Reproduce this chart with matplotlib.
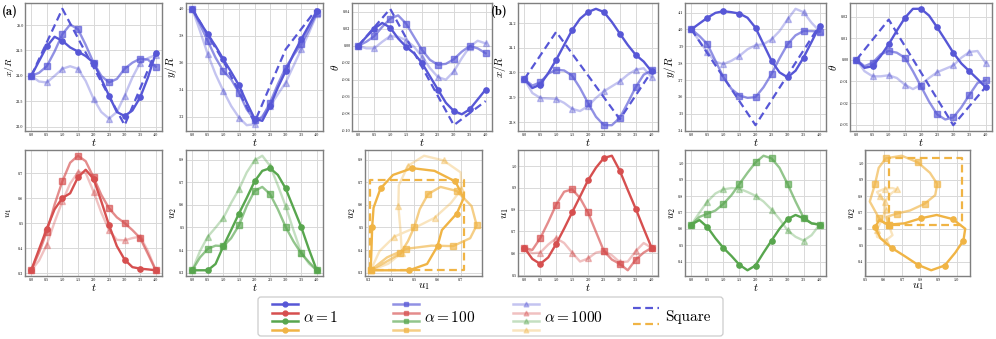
import matplotlib
matplotlib.use("Agg")
import matplotlib.pyplot as plt
from matplotlib.patches import FancyBboxPatch
from matplotlib.ticker import MultipleLocator

plt.rcParams.update({
    "font.family": "serif",
    "font.serif": ["cmr10"],
    "mathtext.fontset": "cm",
    "axes.unicode_minus": False,
})

# time grid of the traces (markers every 0.5)
t = [0.0, 0.25, 0.5, 0.75, 1.0, 1.25, 1.5, 1.75, 2.0,
     2.25, 2.5, 2.75, 3.0, 3.25, 3.5, 3.75, 4.0]
t_sq = [0.0, 1.0, 2.0, 3.0, 4.0]

# ---- case (a) ----
a_x_1 = [24.00, 24.29, 24.58, 24.77, 24.69, 24.56, 24.48, 24.39, 24.26,
         23.94, 23.61, 23.29, 23.21, 23.32, 23.58, 23.97, 24.45]
a_x_100 = [24.00, 24.06, 24.19, 24.48, 24.82, 25.01, 24.92, 24.61, 24.26,
           24.00, 23.87, 23.94, 24.14, 24.26, 24.34, 24.32, 24.18]
a_x_1000 = [24.00, 23.89, 23.87, 24.00, 24.14, 24.19, 24.14, 23.90, 23.55,
            23.29, 23.16, 23.29, 23.61, 23.97, 24.26, 24.35, 24.41]
a_x_sq = [24.00, 25.32, 24.17, 23.03, 24.48]

a_y_1 = [4.000, 3.901, 3.810, 3.723, 3.625, 3.531, 3.432, 3.304, 3.185,
         3.168, 3.279, 3.415, 3.538, 3.662, 3.773, 3.877, 3.983]
a_y_100 = [4.000, 3.884, 3.760, 3.637, 3.538, 3.477, 3.378, 3.254, 3.175,
           3.193, 3.304, 3.440, 3.563, 3.654, 3.736, 3.847, 3.970]
a_y_1000 = [4.000, 3.835, 3.662, 3.514, 3.390, 3.279, 3.193, 3.136, 3.143,
            3.205, 3.279, 3.365, 3.452, 3.575, 3.699, 3.822, 3.958]
a_y_sq = [4.000, 3.612, 3.156, 3.699, 4.000]

a_th_1 = [0.0, 0.0104, 0.0201, 0.0267, 0.0213, 0.0085, -0.0012, -0.0089, -0.0205,
          -0.0360, -0.0515, -0.0670, -0.0766, -0.0805, -0.0747, -0.0631, -0.0515]
a_th_100 = [0.0, 0.0046, 0.0112, 0.0221, 0.0317, 0.0356, 0.0259, 0.0104, -0.0050,
            -0.0166, -0.0224, -0.0213, -0.0159, -0.0070, -0.0004, -0.0031, -0.0089]
a_th_1000 = [0.0, -0.0031, -0.0031, 0.0046, 0.0112, 0.0104, 0.0066, -0.0012, -0.0128,
             -0.0263, -0.0368, -0.0399, -0.0302, -0.0147, -0.0012, 0.0058, 0.0027]
a_th_sq = [0.0, 0.0433, -0.025, -0.0933, -0.065]

a_u1_1 = [0.3115, 0.395, 0.478, 0.555, 0.600, 0.619, 0.683, 0.713, 0.677,
          0.587, 0.491, 0.408, 0.354, 0.324, 0.318, 0.315, 0.3115]
a_u1_100 = [0.3115, 0.382, 0.465, 0.574, 0.667, 0.741, 0.769, 0.747, 0.683,
            0.613, 0.559, 0.523, 0.500, 0.472, 0.440, 0.376, 0.3115]
a_u1_1000 = [0.3115, 0.350, 0.414, 0.504, 0.587, 0.658, 0.703, 0.700, 0.626,
             0.542, 0.472, 0.433, 0.431, 0.440, 0.446, 0.388, 0.3115]

a_u2_1 = [0.310, 0.310, 0.310, 0.338, 0.417, 0.488, 0.561, 0.630, 0.703,
          0.750, 0.762, 0.732, 0.672, 0.587, 0.502, 0.402, 0.310]
a_u2_100 = [0.310, 0.367, 0.405, 0.419, 0.417, 0.452, 0.509, 0.594, 0.661,
            0.679, 0.647, 0.580, 0.502, 0.438, 0.385, 0.346, 0.310]
a_u2_1000 = [0.310, 0.395, 0.459, 0.499, 0.542, 0.608, 0.668, 0.743, 0.796,
             0.817, 0.772, 0.686, 0.594, 0.488, 0.388, 0.339, 0.310]

a_sq_u1 = [0.31, 0.31, 0.715, 0.715, 0.31]
a_sq_u2 = [0.31, 0.71, 0.71, 0.31, 0.31]

# ---- case (b) ----
b_x_1 = [23.973, 23.937, 23.951, 23.997, 24.051, 24.111, 24.171, 24.217, 24.244,
         24.257, 24.244, 24.204, 24.157, 24.111, 24.071, 24.044, 24.004]
b_x_100 = [23.973, 23.947, 23.960, 23.995, 24.011, 24.008, 23.987, 23.937, 23.877,
           23.821, 23.787, 23.787, 23.817, 23.877, 23.941, 23.991, 24.008]
b_x_1000 = [23.973, 23.917, 23.897, 23.895, 23.893, 23.877, 23.853, 23.844, 23.864,
            23.897, 23.924, 23.944, 23.964, 23.991, 24.011, 24.017, 23.981]
b_x_sq = [23.973, 24.164, 23.988, 23.811, 24.004]

b_y_1 = [4.000, 4.035, 4.069, 4.098, 4.108, 4.102, 4.094, 4.069, 4.010,
         3.912, 3.814, 3.745, 3.716, 3.755, 3.833, 3.926, 4.020]
b_y_100 = [4.000, 3.961, 3.912, 3.814, 3.716, 3.647, 3.608, 3.594, 3.598,
           3.657, 3.735, 3.828, 3.912, 3.965, 3.990, 3.990, 3.986]
b_y_1000 = [4.000, 3.931, 3.863, 3.808, 3.794, 3.814, 3.843, 3.882, 3.906,
            3.912, 3.941, 3.990, 4.059, 4.122, 4.102, 4.039, 3.990]
b_y_sq = [4.000, 3.716, 3.432, 3.728, 4.024]

b_th_1 = [0.0, -0.00375, -0.00297, 0.00172, 0.00719, 0.01344, 0.01938, 0.02359, 0.02359,
          0.02047, 0.0150, 0.00922, 0.00328, -0.00172, -0.00531, -0.00891, -0.01266]
b_th_100 = [0.0, -0.00297, -0.00141, 0.0025, 0.00406, 0.00328, 0.00094, -0.00531, -0.01234,
            -0.01938, -0.02531, -0.02766, -0.02672, -0.02203, -0.01625, -0.01078, -0.00953]
b_th_1000 = [0.0, -0.00531, -0.00766, -0.00766, -0.00719, -0.00844, -0.01156, -0.01359, -0.01156,
             -0.00844, -0.00578, -0.00422, -0.00266, 0.00094, 0.00359, 0.00406, -0.00141]
b_th_sq = [0.0, 0.0186, -0.0059, -0.0303, -0.0127]

b_u1_1 = [0.625, 0.574, 0.551, 0.581, 0.643, 0.713, 0.787, 0.860, 0.934,
          0.992, 1.037, 1.047, 0.978, 0.890, 0.804, 0.713, 0.625]
b_u1_100 = [0.625, 0.615, 0.669, 0.743, 0.823, 0.882, 0.893, 0.853, 0.787,
            0.698, 0.610, 0.571, 0.551, 0.522, 0.571, 0.603, 0.625]
b_u1_1000 = [0.625, 0.600, 0.603, 0.640, 0.669, 0.647, 0.603, 0.562, 0.576,
             0.603, 0.610, 0.591, 0.559, 0.562, 0.610, 0.647, 0.625]

b_u2_1 = [0.625, 0.653, 0.610, 0.542, 0.483, 0.434, 0.380, 0.347, 0.376,
          0.454, 0.528, 0.600, 0.659, 0.684, 0.664, 0.633, 0.625]
b_u2_100 = [0.625, 0.672, 0.692, 0.711, 0.752, 0.805, 0.873, 0.941, 1.004,
            1.045, 1.029, 0.971, 0.873, 0.766, 0.668, 0.633, 0.625]
b_u2_1000 = [0.625, 0.698, 0.766, 0.815, 0.840, 0.848, 0.844, 0.824, 0.801,
             0.766, 0.717, 0.659, 0.590, 0.551, 0.528, 0.561, 0.625]

b_sq_u1 = [0.625, 0.625, 1.03, 1.03, 0.625]
b_sq_u2 = [0.625, 1.03, 1.03, 0.625, 0.625]

BLUE = "#5757d6"
RED = "#d64f4f"
GREEN = "#58a64e"
ORANGE = "#f0b445"
STYLES = [(1.0, "o"), (0.65, "s"), (0.35, "^")]

W, H = 996, 339


def rect(l, top, r, b):
    return [l / W, 1 - b / H, (r - l) / W, (b - top) / H]


def style_ax(ax, xlabel, ylabel, xstep, ystep):
    ax.set_facecolor("white")
    ax.grid(True, color="#d9d9d9", lw=0.7)
    ax.set_axisbelow(True)
    for s in ax.spines.values():
        s.set_color("#7f7f7f")
        s.set_linewidth(1.0)
    ax.tick_params(length=0, labelsize=3, pad=1)
    ax.xaxis.set_major_locator(MultipleLocator(xstep))
    ax.yaxis.set_major_locator(MultipleLocator(ystep))
    ax.set_xlabel(xlabel, fontsize=8, labelpad=0)
    ax.set_ylabel(ylabel, fontsize=8, labelpad=0.5)


def draw(ax, xs, ys, color, sq=None):
    for (alpha, mk), x, y in zip(STYLES, xs, ys):
        ax.plot(x, y, color=color, alpha=alpha, lw=1.7, marker=mk, ms=3.8,
                markevery=2, zorder=3)
    if sq is not None:
        ax.plot(sq[0], sq[1], color=color, lw=1.6, ls=(0, (3.5, 2)), zorder=2)


def first_col_label(ax, lab):
    # keep the leftmost y label clear of the figure edge
    ax.set_ylabel(lab, fontsize=7, va="center")
    ax.yaxis.set_label_coords(-0.115, 0.5)


fig = plt.figure(figsize=(W / 100, H / 100), dpi=100)

top_cols = [(25, 162), (186, 323), (352, 492), (518, 658), (685, 826), (850, 992)]
bot_cols = [(25, 162), (186, 323), (365, 482), (518, 658), (685, 826), (865, 970)]

# top row
top_specs = [
    ([a_x_1, a_x_100, a_x_1000], a_x_sq, r"$x/R$", 0.5),
    ([a_y_1, a_y_100, a_y_1000], a_y_sq, r"$y/R$", 0.2),
    ([a_th_1, a_th_100, a_th_1000], a_th_sq, r"$\theta$", 0.02),
    ([b_x_1, b_x_100, b_x_1000], b_x_sq, r"$x/R$", 0.1),
    ([b_y_1, b_y_100, b_y_1000], b_y_sq, r"$y/R$", 0.1),
    ([b_th_1, b_th_100, b_th_1000], b_th_sq, r"$\theta$", 0.01),
]
for k, ((l, r), (ys, sq, lab, step)) in enumerate(zip(top_cols, top_specs)):
    ax = fig.add_axes(rect(l, 3, r, 131))
    draw(ax, [t, t, t], ys, BLUE, sq=(t_sq, sq))
    style_ax(ax, r"$t$", lab, 0.5, step)
    if k == 0:
        first_col_label(ax, lab)

# bottom row
for i, (u1s, u2s, sq) in enumerate([
        ([a_u1_1, a_u1_100, a_u1_1000], [a_u2_1, a_u2_100, a_u2_1000], (a_sq_u1, a_sq_u2)),
        ([b_u1_1, b_u1_100, b_u1_1000], [b_u2_1, b_u2_100, b_u2_1000], (b_sq_u1, b_sq_u2))]):
    cols = bot_cols[3 * i:3 * i + 3]
    ax = fig.add_axes(rect(cols[0][0], 150, cols[0][1], 276))
    draw(ax, [t, t, t], u1s, RED)
    style_ax(ax, r"$t$", r"$u_1$", 0.5, 0.1)
    if i == 0:
        first_col_label(ax, r"$u_1$")
    ax = fig.add_axes(rect(cols[1][0], 150, cols[1][1], 276))
    draw(ax, [t, t, t], u2s, GREEN)
    style_ax(ax, r"$t$", r"$u_2$", 0.5, 0.1)
    ax = fig.add_axes(rect(cols[2][0], 150, cols[2][1], 276))
    draw(ax, u1s, u2s, ORANGE, sq=sq)
    style_ax(ax, r"$u_1$", r"$u_2$", 0.1, 0.1)

fig.text(2 / W, 1 - 11 / H, "(a)", fontsize=9, family="cmb10", va="center")
fig.text(491 / W, 1 - 11 / H, "(b)", fontsize=9, family="cmb10", va="center")

# legend, laid out in figure pixels
lg = fig.add_axes([0, 0, 1, 1], facecolor="none")
lg.set_xlim(0, W)
lg.set_ylim(H, 0)
lg.axis("off")
lg.add_patch(FancyBboxPatch((258, 297), 465, 39, boxstyle="round,pad=0,rounding_size=3",
                            fc="white", ec="#cccccc", lw=0.9))
colors = [BLUE, RED, GREEN, ORANGE]
rows_y = [304, 312.5, 321, 329.5]
labels = [r"$\alpha = 1$", r"$\alpha = 100$", r"$\alpha = 1000$"]
for x0, (alpha, mk), lab in zip([272, 393, 513], STYLES, labels):
    for c, y in zip(colors, rows_y):
        lg.plot([x0, x0 + 26], [y, y], color=c, alpha=alpha, lw=1.8)
        lg.plot([x0 + 13], [y], color=c, alpha=alpha, marker=mk, ms=3.5)
    lg.text(x0 + 31, 317, lab, fontsize=11, va="center")
for c, y in zip([BLUE, ORANGE], [308, 324]):
    lg.plot([633, 659], [y, y], color=c, lw=1.6, ls=(0, (3.5, 2)))
lg.text(665, 317, "Square", fontsize=11, va="center")

fig.savefig("out.png", dpi=100)
